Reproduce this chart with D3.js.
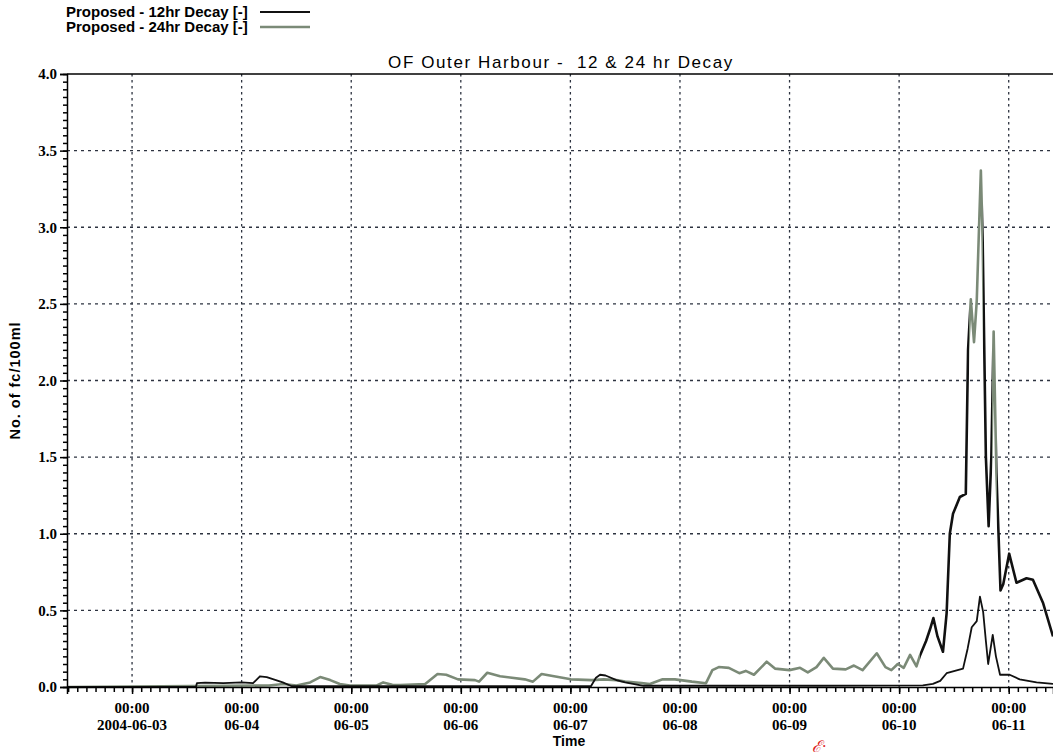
<!DOCTYPE html>
<html>
<head>
<meta charset="utf-8">
<script src="https://cdn.jsdelivr.net/npm/d3@7"></script>
<style>
  body { margin: 0; background: #fff; }
  svg { display: block; }
</style>
</head>
<body>
<svg id="chart" width="1053" height="754"></svg>
<script>
// hours after 2004-06-03 00:00
const grayHours = [-14.25, 30, 33.1, 36, 39, 41.2, 43.4, 45.5, 47.7, 53.6, 55, 57, 58.7, 64.2, 66.9, 68.8, 71.4, 75.1, 76, 77.8, 80.6, 86, 87.8, 89.7, 91.5, 96.1, 100.7, 103.3, 106.1, 108, 111.6, 113.4, 116.2, 118.9, 122.6, 125.7, 127.1, 128.5, 130.7, 133, 134.4, 136.2, 139, 140.8, 144, 146.3, 148, 149.9, 151.5, 153.5, 156.3, 158.1, 160, 163.1, 165, 166.3, 167.7, 169, 170.4, 171.8, 172.5, 173.9, 174.8, 175.5, 176.4, 177.6, 178.4, 179.1, 179.8, 181.3, 182.6, 183.1, 183.7, 184.4, 185, 185.5, 185.9, 186.3, 187, 187.6, 188.2, 188.7, 189.3, 190.2, 190.8, 192.1, 193.7, 195.9, 197.3, 199.5, 201.7];
const grayValues = [0, 0.01, 0.02, 0.01, 0.03, 0.065, 0.045, 0.02, 0.01, 0.01, 0.03, 0.015, 0.013, 0.02, 0.085, 0.08, 0.05, 0.045, 0.035, 0.093, 0.07, 0.05, 0.035, 0.085, 0.075, 0.05, 0.045, 0.05, 0.045, 0.035, 0.025, 0.02, 0.05, 0.05, 0.035, 0.025, 0.11, 0.13, 0.125, 0.09, 0.105, 0.08, 0.165, 0.12, 0.11, 0.125, 0.095, 0.13, 0.19, 0.12, 0.115, 0.14, 0.11, 0.22, 0.13, 0.11, 0.15, 0.125, 0.21, 0.135, 0.2, 0.3, 0.38, 0.45, 0.33, 0.23, 0.48, 1.0, 1.13, 1.24, 1.26, 2.2, 2.53, 2.25, 2.52, 3.0, 3.37, 2.9, 1.5, 1.05, 1.5, 2.32, 1.4, 0.63, 0.67, 0.87, 0.68, 0.71, 0.7, 0.55, 0.33];

const blackHours = [-14.25, 14, 14.2, 16, 20, 24, 26.5, 28, 29.5, 31, 33, 35, 100.5, 101.6, 102.5, 103.7, 106.1, 108, 112, 150, 173.2, 175.4, 177, 178.4, 182, 183, 183.9, 185, 185.7, 186.4, 187, 187.5, 188.5, 189.2, 190.1, 192.2, 194.4, 198.1, 201.7];
const blackValues = [0, 0.002, 0.025, 0.028, 0.025, 0.03, 0.025, 0.07, 0.065, 0.05, 0.03, 0.005, 0.005, 0.06, 0.08, 0.075, 0.045, 0.03, 0.008, 0.008, 0.01, 0.02, 0.04, 0.09, 0.12, 0.25, 0.39, 0.43, 0.59, 0.49, 0.3, 0.15, 0.34, 0.2, 0.08, 0.08, 0.05, 0.03, 0.02];

const seriesNames = ["Proposed - 12hr Decay [-]", "Proposed - 24hr Decay [-]"];
const yTicks = [0, 0.5, 1, 1.5, 2, 2.5, 3, 3.5, 4];
const startDay = new Date(2004, 5, 3);

const toDate = h => new Date(startDay.getTime() + h * 3600e3);

const svg = d3.select("#chart");
const plotLeft = 67, plotRight = 1053, plotTop = 74, plotBottom = 687;

const x = d3.scaleTime()
  .domain([toDate(-14.25), toDate(201.7)])
  .range([plotLeft, plotRight]);
const y = d3.scaleLinear().domain([0, 4]).range([plotBottom, plotTop]);

const serif = "'Liberation Serif', 'Times New Roman', serif";
const sans = "'Liberation Sans', Arial, sans-serif";

const grayColor = "#7b8a77";
const darkColor = "#111";

// the scanned 24hr trace reads dark from 06-10 onwards, except the tall spikes
const toneStops = [[0, grayColor], [172.5, grayColor], [172.5, darkColor], [183.4, darkColor], [183.4, grayColor],
  [186.4, grayColor], [186.4, darkColor], [188.4, darkColor], [188.4, grayColor], [189.4, grayColor], [189.4, darkColor], [201.7, darkColor]];
const grad = svg.append("defs").append("linearGradient")
  .attr("id", "tone")
  .attr("gradientUnits", "userSpaceOnUse")
  .attr("x1", plotLeft).attr("x2", plotRight).attr("y1", 0).attr("y2", 0);
grad.selectAll("stop")
  .data(toneStops)
  .join("stop")
  .attr("offset", d => (x(toDate(d[0])) - plotLeft) / (plotRight - plotLeft))
  .attr("stop-color", d => d[1]);

// grid
const days = d3.timeDay.range(toDate(0), toDate(202));
svg.append("g")
  .selectAll("line")
  .data(days)
  .join("line")
  .attr("x1", d => x(d)).attr("x2", d => x(d))
  .attr("y1", plotTop).attr("y2", plotBottom)
  .attr("stroke", "#2d3340")
  .attr("stroke-width", 1.3)
  .attr("stroke-dasharray", "2.5,3.5");

svg.append("g")
  .selectAll("line")
  .data(yTicks.filter(d => d > 0 && d < 4))
  .join("line")
  .attr("x1", plotLeft).attr("x2", plotRight)
  .attr("y1", d => y(d)).attr("y2", d => y(d))
  .attr("stroke", "#2d3340")
  .attr("stroke-width", 1.3)
  .attr("stroke-dasharray", "3,4");

// series
const line = d3.line()
  .x(d => x(d.t))
  .y(d => y(d.v));

const grayData = grayHours.map((h, i) => ({ t: toDate(h), v: grayValues[i] }));
const blackData = blackHours.map((h, i) => ({ t: toDate(h), v: blackValues[i] }));

svg.append("path")
  .datum(grayData)
  .attr("d", line)
  .attr("fill", "none")
  .attr("stroke", "url(#tone)")
  .attr("stroke-width", 2.6)
  .attr("stroke-linejoin", "round");

svg.append("path")
  .datum(blackData)
  .attr("d", line)
  .attr("fill", "none")
  .attr("stroke", darkColor)
  .attr("stroke-width", 1.8)
  .attr("stroke-linejoin", "round");

// axes
const yAxis = svg.append("g")
  .attr("transform", `translate(${plotLeft},0)`)
  .call(d3.axisLeft(y).tickValues(yTicks).tickFormat(d3.format(".1f")).tickSize(7).tickPadding(3));
const yMinor = svg.append("g")
  .attr("transform", `translate(${plotLeft},0)`)
  .call(d3.axisLeft(y).tickValues(d3.range(0, 4.001, 0.05)).tickFormat("").tickSize(4))
  .call(g => g.select(".domain").remove());

const fmtDate = d3.timeFormat("%m-%d");
const xAxis = svg.append("g")
  .attr("transform", `translate(0,${plotBottom})`)
  .call(d3.axisBottom(x).tickValues(days).tickFormat("").tickSize(7));
const xMinor = svg.append("g")
  .attr("transform", `translate(0,${plotBottom})`)
  .call(d3.axisBottom(x).ticks(d3.timeHour.every(2)).tickFormat("").tickSize(5))
  .call(g => g.select(".domain").remove());

[yAxis, xAxis, yMinor, xMinor].forEach(g => {
  g.selectAll(".domain, .tick line").attr("stroke", "#000").attr("stroke-width", 1.5);
});
yAxis.selectAll("text")
  .attr("font-family", serif)
  .attr("font-weight", "bold")
  .attr("font-size", 15)
  .attr("fill", "#000");

const xLabels = svg.append("g")
  .attr("font-family", serif)
  .attr("font-weight", "bold")
  .attr("font-size", 15)
  .attr("text-anchor", "middle");
xLabels.selectAll("text.hr")
  .data(days)
  .join("text")
  .attr("class", "hr")
  .attr("x", d => x(d)).attr("y", plotBottom + 26)
  .text("00:00");
xLabels.selectAll("text.dt")
  .data(days)
  .join("text")
  .attr("class", "dt")
  .attr("x", d => x(d)).attr("y", plotBottom + 43)
  .text((d, i) => i === 0 ? d3.timeFormat("%Y-%m-%d")(d) : fmtDate(d));

// top frame line
svg.append("line")
  .attr("x1", plotLeft).attr("x2", plotRight)
  .attr("y1", plotTop).attr("y2", plotTop)
  .attr("stroke", "#000").attr("stroke-width", 1.5);

// titles
svg.append("text")
  .attr("x", 561).attr("y", 68)
  .attr("text-anchor", "middle")
  .attr("font-family", sans)
  .attr("font-size", 17)
  .attr("letter-spacing", 1.6)
  .style("white-space", "pre")
  .text("OF Outer Harbour -  12 & 24 hr Decay");

svg.append("text")
  .attr("transform", `translate(20,${(plotTop + plotBottom) / 2}) rotate(-90)`)
  .attr("text-anchor", "middle")
  .attr("font-family", sans)
  .attr("font-weight", "bold")
  .attr("font-size", 14.5)
  .attr("letter-spacing", 1)
  .text("No. of fc/100ml");

svg.append("text")
  .attr("x", 569).attr("y", 746)
  .attr("text-anchor", "middle")
  .attr("font-family", sans)
  .attr("font-weight", "bold")
  .attr("font-size", 14)
  .text("Time");

svg.append("text")
  .attr("x", 812).attr("y", 752)
  .attr("font-family", serif)
  .attr("font-style", "italic")
  .attr("font-size", 16)
  .attr("fill", "#d22")
  .text("ℰ·");

// legend
const legend = svg.append("g")
  .attr("font-family", sans)
  .attr("font-weight", "bold")
  .attr("font-size", 15);
const legendColors = [darkColor, grayColor];
seriesNames.forEach((name, i) => {
  const ly = 12 + i * 15;
  legend.append("text").attr("x", 66).attr("y", ly + 5).text(name);
  legend.append("line")
    .attr("x1", 260).attr("x2", 310)
    .attr("y1", ly).attr("y2", ly)
    .attr("stroke", legendColors[i])
    .attr("stroke-width", i === 0 ? 2 : 2.5);
});
</script>
</body>
</html>
